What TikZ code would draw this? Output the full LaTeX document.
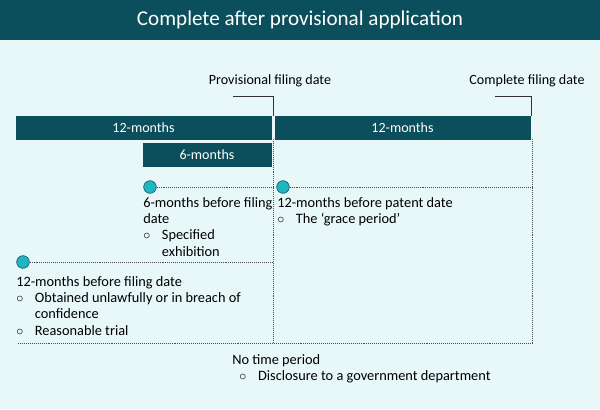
\documentclass[tikz,border=0pt]{standalone}
\usepackage{fontspec}
\setmainfont{Carlito}
\usetikzlibrary{positioning}
\definecolor{darkteal}{HTML}{0B4F5C}
\definecolor{paleteal}{HTML}{E8F7F8}
\definecolor{dotteal}{HTML}{1FB5C2}
\tikzset{
  bar/.style={rectangle, draw=darkteal, fill=darkteal, text=white, inner sep=0pt, font=\fontsize{10}{11}\selectfont},
  label/.style={font=\fontsize{10}{11}\selectfont, inner sep=0pt},
  note/.style={font=\fontsize{10.2}{11.6}\selectfont, inner sep=0pt, anchor=north west, align=left},
  guide/.style={densely dotted, gray!60!black, thin},
  leader/.style={black!80, thin},
  marker/.style={circle, draw=darkteal, fill=dotteal, minimum size=9pt, inner sep=0pt}
}
\newcommand{\bul}{\makebox[1.3em][l]{$\circ$}}
\begin{document}
\begin{tikzpicture}[x=0.025cm, y=-0.025cm]
  \useasboundingbox (0,0) rectangle (600,409);
  \fill[paleteal] (0,0) rectangle (600,409);
  \fill[darkteal] (0,0) rectangle (600,40);
  \node (title) [text=white, font=\fontsize{15}{16}\selectfont] at (300,20) {Complete after provisional application};

  % bars
  \node (BarA) [bar, minimum width=255*0.025cm, minimum height=23*0.025cm] at (143.5,127.5) {12-months};
  \node (BarB) [bar, minimum width=255*0.025cm, minimum height=23*0.025cm] at (402.5,127.5) {12-months};
  \node (BarC) [bar, minimum width=128*0.025cm, minimum height=23*0.025cm] at (207,154.5) {6-months};

  % dates
  \node (Prov) [label] at (270,81) {Provisional filing date};
  \node (Comp) [label] at (527,81) {Complete filing date};
  \coordinate (ProvTop) at (273,96);
  \coordinate (CompTop) at (531,96);
  \coordinate (ProvEnd) at (273,343);
  \coordinate (CompEnd) at (532,343);
  \coordinate (LeftEnd) at (18,343);
  \draw [leader] (233,96) -- (ProvTop) -- (273,116);
  \draw [leader] (495,96) -- (CompTop) -- (531,116);
  \draw [guide] (273,139) -- (ProvEnd);
  \draw [guide] (532,139) -- (CompEnd);
  \draw [guide] (LeftEnd) -- (CompEnd);

  % markers
  \node (SixM) [marker] at (150,187) {};
  \node (Grace) [marker] at (283,187) {};
  \node (TwelveM) [marker] at (23,262) {};
  \draw [guide] (SixM) -- (273,187);
  \draw [guide] (Grace) -- (532,187);
  \draw [guide] (TwelveM) -- (273,262);

  % notes
  \node (SixText) [note] at (143,197) {6-months before filing\\date\\\bul Specified\\\hspace{1.3em}exhibition};
  \node (GraceText) [note] at (277,197) {12-months before patent date\\\bul The `grace period'};
  \node (TwelveText) [note] at (16,276) {12-months before filing date\\\bul Obtained unlawfully or in breach of\\\hspace{1.3em}confidence\\\bul Reasonable trial};
  \node (NoneText) [note] at (232,354) {No time period\\\hspace{0.5em}\bul Disclosure to a government department};
\end{tikzpicture}
\end{document}
